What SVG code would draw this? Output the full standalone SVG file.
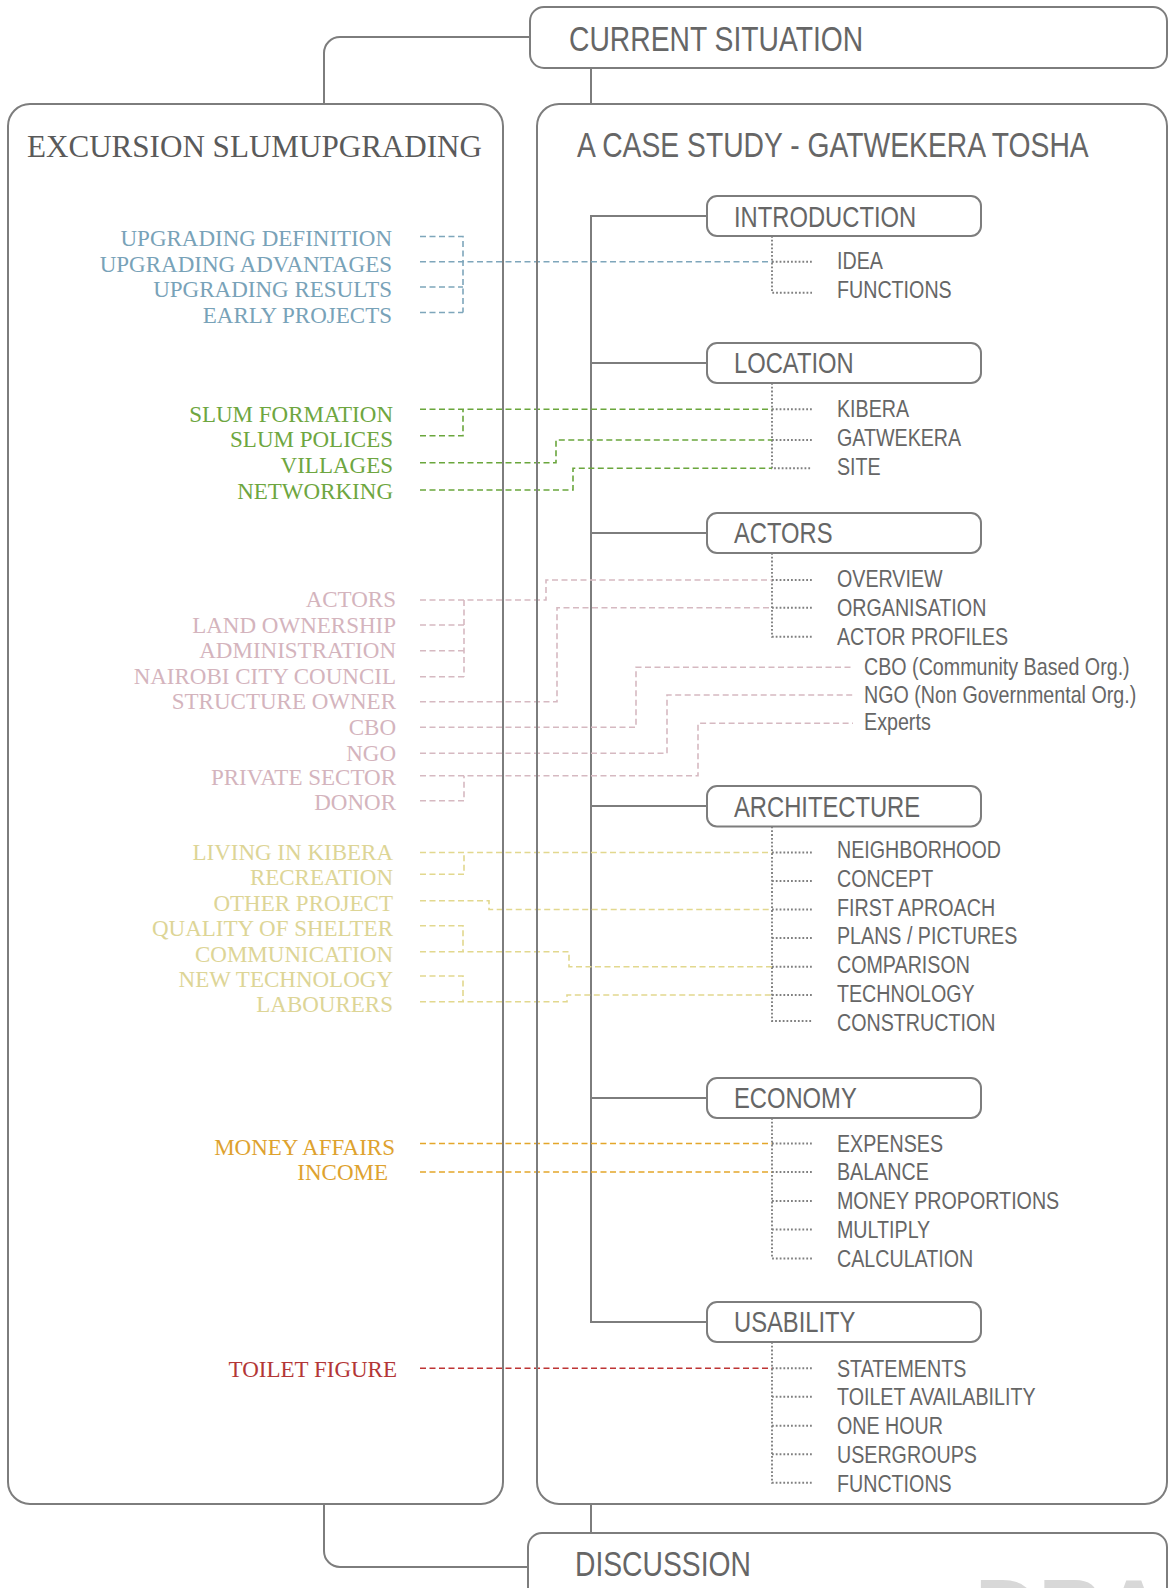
<svg xmlns="http://www.w3.org/2000/svg" width="1170" height="1588" viewBox="0 0 1170 1588">
<style>
.box{fill:#fff;stroke:#7d7d7d;stroke-width:2}
.bigbox{fill:none;stroke:#7d7d7d;stroke-width:2}
.sol{fill:none;stroke:#7d7d7d;stroke-width:2}
.dot{fill:none;stroke:#808080;stroke-width:1.9;stroke-dasharray:1.8 2}
.dash{fill:none;stroke-width:1.6;stroke-dasharray:6 3.5}
.b{stroke:#7ea6bb}.g{stroke:#6aa63c}.p{stroke:#d6b9c1}.y{stroke:#e2d88e}.o{stroke:#e4a62a}.r{stroke:#be3434}
.rt{font-family:"Liberation Sans",Arial,sans-serif;fill:#666}
.h{font-size:34.5px}.s{font-size:29px}.i{font-size:24px}
.lt{font-family:"Liberation Serif","Times New Roman",serif;font-size:23px;text-anchor:end}
.tb{fill:#78a2b8}.tg{fill:#6ea640}.tp{fill:#d4b4bd}.ty{fill:#ddd596}.to{fill:#dea22e}.tr{fill:#b33636}
.title{font-family:"Liberation Serif","Times New Roman",serif;font-size:32px;fill:#5a5a5a}
.wm{font-family:"Liberation Sans",Arial,sans-serif;font-weight:bold;font-size:88px;fill:#d8d8d8}
</style>
<rect width="1170" height="1588" fill="#fff"/>

<g id="connectors">
  <path class="sol" d="M530 37H340A16 16 0 0 0 324 53V104"/>
  <path class="sol" d="M324 1504V1551A16 16 0 0 0 340 1567H528"/>
  <path class="sol" d="M591 68V104M591 1504V1533"/>
  <path class="sol" d="M707 216H591V1322H707M591 363H707M591 533H707M591 806H707M591 1098H707"/>
  <path class="dot" d="M772 236V292.7H812M772 261.7H812"/>
  <path class="dot" d="M772 383V468.3H812M772 409.3H812M772 440H812"/>
  <path class="dot" d="M772 553V636.7H812M772 580H812M772 607.7H812"/>
  <path class="dot" d="M772 826.5V1021H812M772 852.5H812M772 881H812M772 909.5H812M772 938H812M772 966.7H812M772 995H812"/>
  <path class="dot" d="M772 1118V1258.5H812M772 1143.5H812M772 1172H812M772 1201H812M772 1229.5H812"/>
  <path class="dot" d="M772 1342V1482.7H812M772 1368.3H812M772 1396.7H812M772 1425.7H812M772 1454.3H812"/>
  <path class="dash b" d="M420 236.5H463V312.5M420 287H463M420 312.5H463M420 261.7H772"/>
  <path class="dash g" d="M420 409.3H772M420 435.7H463V409.3M420 462.7H556V440H772M420 490H573V468.3H772"/>
  <path class="dash p" d="M420 600H546V580H772M464 600V676.7M420 625H464M420 650.7H464M420 676.7H464M420 701.7H557V607.7H772M420 727.3H636V667.3H853M420 753.3H667V695H853M420 775.7H698V723.3H853M420 800.7H464V775.7"/>
  <path class="dash y" d="M420 852.5H772M420 874.3H464V852.5M420 900.7H489V909.5H772M420 925.7H463V951.7M420 951.7H569V966.7H772M420 976H463V1001.7M420 1001.7H567V995H772"/>
  <path class="dash o" d="M420 1143.5H772M420 1172H772"/>
  <path class="dash r" d="M420 1368.3H772"/>
</g>

<g id="current-situation">
  <rect class="box" x="530" y="7" width="637" height="61" rx="14"/>
  <g transform="scale(0.82 1)"><text class="rt h" x="693.9" y="51">CURRENT SITUATION</text></g>
</g>

<g id="excursion">
  <rect class="bigbox" x="8" y="104" width="495" height="1400" rx="22"/>
  <text class="title" x="27" y="157" textLength="455" lengthAdjust="spacingAndGlyphs">EXCURSION SLUMUPGRADING</text>
  <text class="lt tb" x="392" y="246">UPGRADING DEFINITION</text>
  <text class="lt tb" x="392" y="271.5">UPGRADING ADVANTAGES</text>
  <text class="lt tb" x="392" y="297">UPGRADING RESULTS</text>
  <text class="lt tb" x="392" y="322.5">EARLY PROJECTS</text>
  <text class="lt tg" x="393" y="421.7">SLUM FORMATION</text>
  <text class="lt tg" x="393" y="447.3">SLUM POLICES</text>
  <text class="lt tg" x="393" y="473.3">VILLAGES</text>
  <text class="lt tg" x="393" y="499">NETWORKING</text>
  <text class="lt tp" x="396" y="607.3">ACTORS</text>
  <text class="lt tp" x="396" y="633.3">LAND OWNERSHIP</text>
  <text class="lt tp" x="396" y="658.3">ADMINISTRATION</text>
  <text class="lt tp" x="396" y="684">NAIROBI CITY COUNCIL</text>
  <text class="lt tp" x="396" y="709.3">STRUCTURE OWNER</text>
  <text class="lt tp" x="396" y="735">CBO</text>
  <text class="lt tp" x="396" y="760.7">NGO</text>
  <text class="lt tp" x="396" y="785">PRIVATE SECTOR</text>
  <text class="lt tp" x="396" y="810">DONOR</text>
  <text class="lt ty" x="393" y="860">LIVING IN KIBERA</text>
  <text class="lt ty" x="393" y="885">RECREATION</text>
  <text class="lt ty" x="393" y="910.7">OTHER PROJECT</text>
  <text class="lt ty" x="393" y="936">QUALITY OF SHELTER</text>
  <text class="lt ty" x="393" y="961.7">COMMUNICATION</text>
  <text class="lt ty" x="393" y="986.7">NEW TECHNOLOGY</text>
  <text class="lt ty" x="393" y="1012.3">LABOURERS</text>
  <text class="lt to" x="395" y="1155">MONEY AFFAIRS</text>
  <text class="lt to" x="388" y="1180">INCOME</text>
  <text class="lt tr" x="397" y="1376.7">TOILET FIGURE</text>
</g>

<g id="case-study">
  <rect class="bigbox" x="537" y="104" width="630" height="1400" rx="22"/>
  <g transform="scale(0.82 1)"><text class="rt h" x="703.7" y="157">A CASE STUDY - GATWEKERA TOSHA</text></g>
</g>

<g id="introduction">
  <rect class="box" x="707" y="196" width="274" height="40" rx="10"/>
  <g class="rt" transform="scale(0.82 1)">
    <text class="s" x="895.1" y="226.7">INTRODUCTION</text>
    <text class="i" x="1020.7" y="269">IDEA</text>
    <text class="i" x="1020.7" y="297.7">FUNCTIONS</text>
  </g>
</g>

<g id="location">
  <rect class="box" x="707" y="343" width="274" height="40" rx="10"/>
  <g class="rt" transform="scale(0.82 1)">
    <text class="s" x="895.1" y="373.3">LOCATION</text>
    <text class="i" x="1020.7" y="417.3">KIBERA</text>
    <text class="i" x="1020.7" y="446">GATWEKERA</text>
    <text class="i" x="1020.7" y="475">SITE</text>
  </g>
</g>

<g id="actors">
  <rect class="box" x="707" y="513" width="274" height="40" rx="10"/>
  <g class="rt" transform="scale(0.82 1)">
    <text class="s" x="895.1" y="543.5">ACTORS</text>
    <text class="i" x="1020.7" y="587.3">OVERVIEW</text>
    <text class="i" x="1020.7" y="616">ORGANISATION</text>
    <text class="i" x="1020.7" y="645">ACTOR PROFILES</text>
    <text class="i" x="1053.7" y="675">CBO (Community Based Org.)</text>
    <text class="i" x="1053.7" y="703.3">NGO (Non Governmental Org.)</text>
    <text class="i" x="1053.7" y="730.5">Experts</text>
  </g>
</g>

<g id="architecture">
  <rect class="box" x="707" y="786" width="274" height="40.5" rx="10"/>
  <g class="rt" transform="scale(0.82 1)">
    <text class="s" x="895.1" y="816.7">ARCHITECTURE</text>
    <text class="i" x="1020.7" y="858.5">NEIGHBORHOOD</text>
    <text class="i" x="1020.7" y="887">CONCEPT</text>
    <text class="i" x="1020.7" y="915.6">FIRST APROACH</text>
    <text class="i" x="1020.7" y="944.4">PLANS / PICTURES</text>
    <text class="i" x="1020.7" y="973.2">COMPARISON</text>
    <text class="i" x="1020.7" y="1002">TECHNOLOGY</text>
    <text class="i" x="1020.7" y="1030.8">CONSTRUCTION</text>
  </g>
</g>

<g id="economy">
  <rect class="box" x="707" y="1078" width="274" height="40" rx="10"/>
  <g class="rt" transform="scale(0.82 1)">
    <text class="s" x="895.1" y="1108">ECONOMY</text>
    <text class="i" x="1020.7" y="1151.7">EXPENSES</text>
    <text class="i" x="1020.7" y="1180">BALANCE</text>
    <text class="i" x="1020.7" y="1209.3">MONEY PROPORTIONS</text>
    <text class="i" x="1020.7" y="1238">MULTIPLY</text>
    <text class="i" x="1020.7" y="1266.7">CALCULATION</text>
  </g>
</g>

<g id="usability">
  <rect class="box" x="707" y="1302" width="274" height="40" rx="10"/>
  <g class="rt" transform="scale(0.82 1)">
    <text class="s" x="895.1" y="1332">USABILITY</text>
    <text class="i" x="1020.7" y="1376.7">STATEMENTS</text>
    <text class="i" x="1020.7" y="1405">TOILET AVAILABILITY</text>
    <text class="i" x="1020.7" y="1434">ONE HOUR</text>
    <text class="i" x="1020.7" y="1462.7">USERGROUPS</text>
    <text class="i" x="1020.7" y="1491.7">FUNCTIONS</text>
  </g>
</g>

<g id="discussion">
  <rect class="box" x="528" y="1533" width="639" height="80" rx="14"/>
  <text class="wm" x="975" y="1640">DRAFT</text>
  <g transform="scale(0.82 1)"><text class="rt h" x="701.2" y="1576">DISCUSSION</text></g>
</g>
</svg>
